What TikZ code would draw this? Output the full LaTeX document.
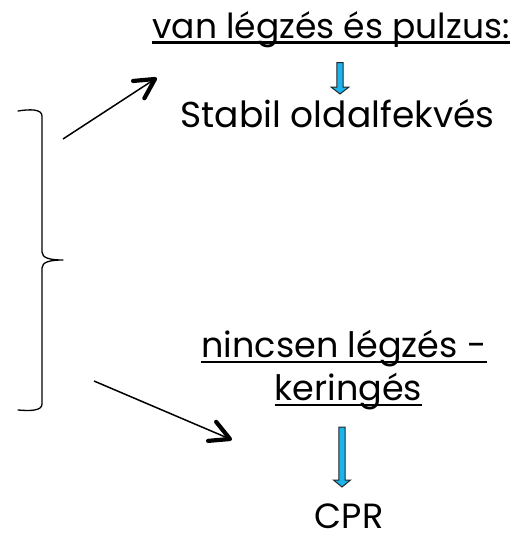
\documentclass[tikz,border=0pt]{standalone}
\usepackage{fontspec}
\setmainfont{Poppins}
\usetikzlibrary{calc}
\definecolor{flowblue}{HTML}{1CB4EC}
\tikzset{
  lbl/.style={inner sep=0pt, anchor=base},
  uline/.style={line width=2.2pt},
  shaft/.style={line width=1.5pt},
  barb/.style={line width=4.2pt, line cap=round, line join=round},
  flowarrow/.style={draw=black!85, fill=flowblue, line width=1pt},
  bracket/.style={line width=1.3pt, line cap=round, line join=round}
}
\begin{document}
\begin{tikzpicture}[x=1pt, y=-1pt]
  \useasboundingbox (0,0) rectangle (514,536);

  % headings and outcomes
  \node[lbl, font=\fontsize{34.5}{36}\selectfont] (yes) at (331,38) {van légzés és pulzus:};
  \node[lbl, font=\fontsize{36}{38}\selectfont] (side) at (337.5,127) {Stabil oldalfekvés};
  \node[lbl, font=\fontsize{35}{37}\selectfont] (no1) at (344,357) {nincsen légzés -};
  \node[lbl, font=\fontsize{35}{37}\selectfont] (no2) at (348.5,400) {keringés};
  \node[lbl, font=\fontsize{35}{37}\selectfont] (cpr) at (349,528) {CPR};

  % underlines
  \draw[uline] ([yshift=-4.5pt]yes.base west) -- ([yshift=-4.5pt]yes.base east);
  \draw[uline] ([yshift=-5pt]no1.base west) -- ([yshift=-5pt]no1.base east);
  \draw[uline] ([yshift=-5pt]no2.base west) -- ([yshift=-5pt]no2.base east);

  % bracket grouping both cases
  \coordinate (tip) at (63,260);
  \draw[bracket] (18,111) .. controls (30,109) and (42,109) .. (42,116)
    -- (42,252) .. controls (42,258) and (50,260) .. (tip)
    (tip) .. controls (50,260) and (42,262) .. (42,268)
    -- (42,404) .. controls (42,411) and (30,411) .. (18,410);

  % branch pointers with bold open heads
  \coordinate (upfrom) at (63,139);
  \coordinate (upto) at (155,79);
  \coordinate (dnfrom) at (94,381);
  \coordinate (dnto) at (230,439);
  \draw[shaft] (upfrom) -- ($(upto)!1.5pt!(upfrom)$);
  \draw[barb] ($(upto)!22pt!28:(upfrom)$) -- (upto) -- ($(upto)!22pt!-28:(upfrom)$);
  \draw[shaft] (dnfrom) -- ($(dnto)!1.5pt!(dnfrom)$);
  \draw[barb] ($(dnto)!22pt!28:(dnfrom)$) -- (dnto) -- ($(dnto)!22pt!-28:(dnfrom)$);

  % blue flow arrows
  \coordinate (a1) at (340,62.5);
  \coordinate (a2) at (342,427);
  \draw[flowarrow] ([xshift=-3.2pt]a1) -- ++(0,24.5) -- ++(-5.8,0) -- ++(9,7) -- ++(9,-7) -- ++(-5.8,0) -- ++(0,-24.5) -- cycle;
  \draw[flowarrow] ([xshift=-3.2pt]a2) -- ++(0,53) -- ++(-5.3,0) -- ++(8.5,7) -- ++(8.5,-7) -- ++(-5.3,0) -- ++(0,-53) -- cycle;
\end{tikzpicture}
\end{document}
